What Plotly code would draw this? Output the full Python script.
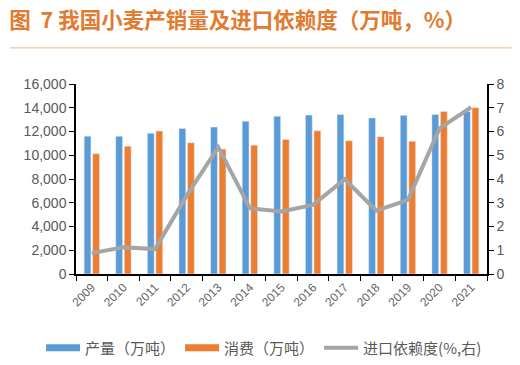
import plotly.graph_objects as go

years = ["2009","2010","2011","2012","2013","2014","2015","2016","2017","2018","2019","2020","2021"]
production = [11610, 11600, 11860, 12250, 12370, 12870, 13290, 13380, 13430, 13140, 13360, 13430, 13690]
consumption = [10130, 10760, 12040, 11050, 10520, 10850, 11330, 12060, 11220, 11550, 11170, 13690, 14010]
import_dep = [0.88, 1.13, 1.05, 3.3, 5.34, 2.77, 2.63, 2.91, 3.99, 2.67, 3.12, 6.13, 7.02]

names = ["产量（万吨）", "消费（万吨）", "进口依赖度(%,右)"]
colors = ["#5B9BD5", "#ED7D31", "#A5A5A5"]
title_text = "图  7 我国小麦产销量及进口依赖度（万吨，%）"

fig = go.Figure()
fig.add_trace(go.Bar(x=years, y=production, name=names[0], marker_color=colors[0], showlegend=False))
fig.add_trace(go.Bar(x=years, y=consumption, name=names[1], marker_color=colors[1], showlegend=False))
fig.add_trace(go.Scatter(x=years, y=import_dep, name=names[2], mode="lines",
                         line=dict(color=colors[2], width=4), yaxis="y2", showlegend=False))
# legend entries
for n, c in zip(names, colors):
    fig.add_trace(go.Scatter(x=[None], y=[None], mode="lines", name=n,
                             line=dict(color=c, width=7 if c != colors[2] else 4)))

tickfont = dict(family="Liberation Sans", size=14, color="#595959")
fig.update_layout(
    width=520, height=365,
    margin=dict(l=76, r=33, t=84, b=91, autoexpand=False),
    paper_bgcolor="white", plot_bgcolor="white",
    barmode="group", bargap=0.46, bargroupgap=0.2,
    title=dict(text=title_text, x=0.018, xanchor="left", y=0.945, yanchor="middle",
               font=dict(family="Noto Sans CJK SC", size=21.5, color="#E07B2F", weight="bold")),
    xaxis=dict(type="category", showline=True, linecolor="black", linewidth=1.5,
               ticks="outside", tickson="boundaries", ticklen=5, tickcolor="black",
               tickangle=-45, tickfont=dict(family="Liberation Sans", size=12, color="#666666"),
               showgrid=False, automargin=False),
    yaxis=dict(range=[0, 16000], dtick=2000, tickformat=",", showline=True, linecolor="black",
               linewidth=1.5, ticks="outside", ticklen=5, tickcolor="black", showgrid=False,
               tickfont=tickfont, zeroline=False, automargin=False),
    yaxis2=dict(range=[0, 8], dtick=1, overlaying="y", side="right", showline=True,
                linecolor="black", linewidth=1.5, ticks="outside", ticklen=5, tickcolor="black",
                showgrid=False, tickfont=tickfont, zeroline=False, automargin=False),
    legend=dict(orientation="h", x=-0.085, xanchor="left",
                y=-0.39, yanchor="middle",
                font=dict(family="Noto Sans CJK SC", size=15, color="#595959"),
                itemwidth=34, tracegroupgap=0),
    shapes=[dict(type="line", xref="paper", yref="paper", x0=-0.16, x1=1.06, y0=1.19, y1=1.19,
                 line=dict(color="#EFB48A", width=1))],
)
fig.write_html("out.html", config={"displayModeBar": False},
               post_script="document.body.style.margin='0';")
